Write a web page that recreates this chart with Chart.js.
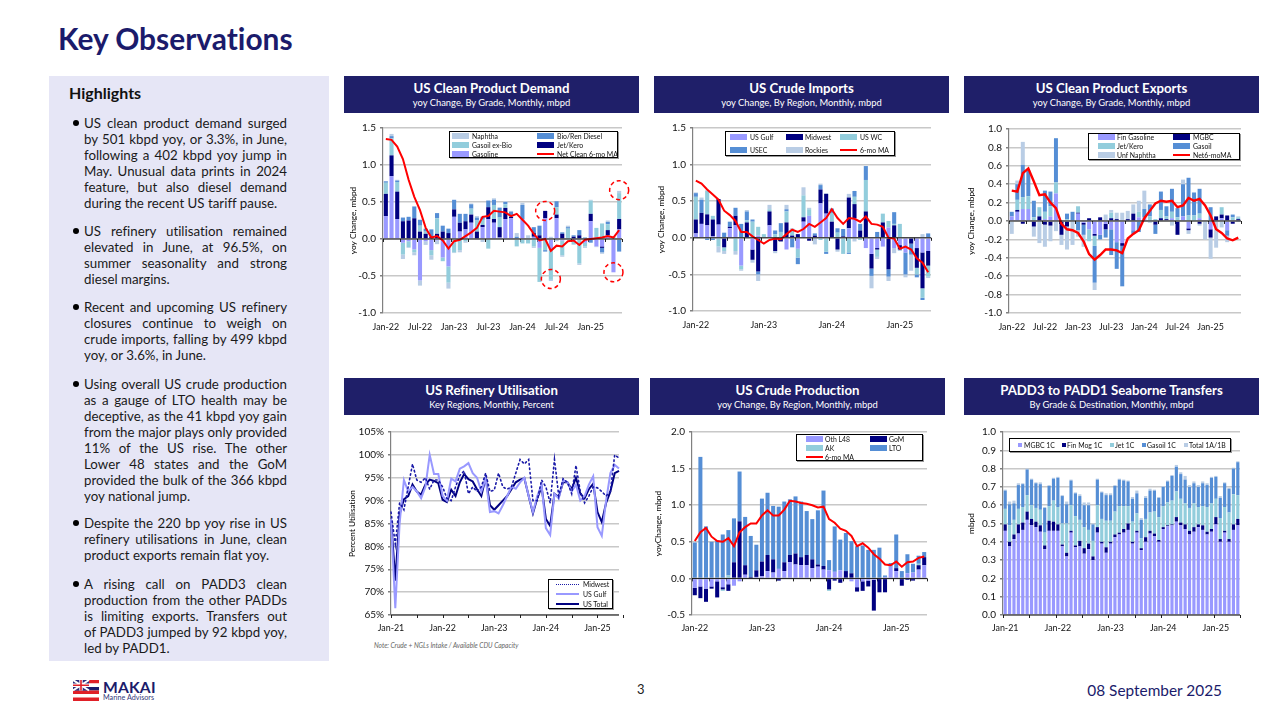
<!DOCTYPE html>
<html>
<head>
<meta charset="utf-8">
<title>Key Observations</title>
<script src="https://cdn.jsdelivr.net/npm/chart.js@4/dist/chart.umd.min.js"></script>
<style>
    html, body { margin: 0; padding: 0; background: #fff; }
    body { width: 1280px; height: 720px; position: relative; overflow: hidden; font-family: Lato, sans-serif; font-variant-ligatures: none; }
    h1 { position: absolute; left: 58px; top: 20px; margin: 0; font-size: 29.9px; line-height: 36px; font-weight: 700; color: #1b1b6b; }
    .panel { position: absolute; left: 49px; top: 76px; width: 280px; height: 585px; background: #e6e6f6; }
    .panel h2 { position: absolute; left: 20px; top: 8px; margin: 0; font-size: 16px; line-height: 18px; font-weight: 700; color: #111; }
    .panel p { position: absolute; left: 35px; width: 203px; margin: 0; font-size: 13.3px; line-height: 16px; color: #1a1a1a; }
    .panel p span { display: block; white-space: nowrap; text-align: justify; text-align-last: justify; }
    .panel p span:last-child { text-align-last: left; }
    .panel p::before { content: ""; position: absolute; left: -11px; top: 5px; width: 6px; height: 6px; border-radius: 50%; background: #000; }
    .head { position: absolute; height: 37px; background: #1f1f69; color: #fff; text-align: center; }
    .head b { display: block; font-size: 13.2px; line-height: 15px; margin-top: 5px; font-weight: 700; }
    .head span { display: block; font-size: 9.4px; line-height: 13px; }
    canvas { position: absolute; }
    .legend { position: absolute; background: #fff; border: 1px solid #000; box-sizing: border-box; box-shadow: 1px 1px 0 #999; }
    .legend i { position: absolute; display: block; }
    .legend span { position: absolute; font-size: 6.9px; line-height: 10px; white-space: nowrap; color: #111; }
    .note { position: absolute; left: 374px; top: 640px; font-size: 6.6px; line-height: 10px; font-style: italic; color: #666; }
    .page { position: absolute; left: 637px; top: 681px; font-size: 13px; line-height: 16px; color: #222; }
    .date { position: absolute; right: 58px; top: 681px; font-size: 15.4px; line-height: 18px; color: #1b1b6b; }
    .logo { position: absolute; left: 73px; top: 680px; }
    .brand { position: absolute; left: 103px; top: 677px; font-size: 15.6px; line-height: 20px; font-weight: 700; letter-spacing: 0.2px; color: #1b1b6b; }
    .brand2 { position: absolute; left: 103px; top: 693px; font-size: 7.2px; line-height: 10px; color: #333a7a; }
</style>
</head>
<body>
<h1>Key Observations</h1>

<div class="panel">
    <h2>Highlights</h2>
    <p style="top:39px"><span>US clean product demand surged</span><span>by 501 kbpd yoy, or 3.3%, in June,</span><span>following a 402 kbpd yoy jump in</span><span>May. Unusual data prints in 2024</span><span>feature, but also diesel demand</span><span>during the recent US tariff pause.</span></p>
    <p style="top:147px"><span>US refinery utilisation remained</span><span>elevated in June, at 96.5%, on</span><span>summer seasonality and strong</span><span>diesel margins.</span></p>
    <p style="top:223px"><span>Recent and upcoming US refinery</span><span>closures continue to weigh on</span><span>crude imports, falling by 499 kbpd</span><span>yoy, or 3.6%, in June.</span></p>
    <p style="top:300px"><span>Using overall US crude production</span><span>as a gauge of LTO health may be</span><span>deceptive, as the 41 kbpd yoy gain</span><span>from the major plays only provided</span><span>11% of the US rise. The other</span><span>Lower 48 states and the GoM</span><span>provided the bulk of the 366 kbpd</span><span>yoy national jump.</span></p>
    <p style="top:439px"><span>Despite the 220 bp yoy rise in US</span><span>refinery utilisations in June, clean</span><span>product exports remain flat yoy.</span></p>
    <p style="top:500px"><span>A rising call on PADD3 clean</span><span>production from the other PADDs</span><span>is limiting exports. Transfers out</span><span>of PADD3 jumped by 92 kbpd yoy,</span><span>led by PADD1.</span></p>
</div>

<div class="head" style="left:344px;top:76px;width:295px"><b>US Clean Product Demand</b><span>yoy Change, By Grade, Monthly, mbpd</span></div>
<div class="head" style="left:654px;top:76px;width:295px"><b>US Crude Imports</b><span>yoy Change, By Region, Monthly, mbpd</span></div>
<div class="head" style="left:964px;top:76px;width:295px"><b>US Clean Product Exports</b><span>yoy Change, By Grade, Monthly, mbpd</span></div>
<div class="head" style="left:344px;top:378px;width:295px"><b>US Refinery Utilisation</b><span>Key Regions, Monthly, Percent</span></div>
<div class="head" style="left:650px;top:378px;width:295px"><b>US Crude Production</b><span>yoy Change, By Region, Monthly, mbpd</span></div>
<div class="head" style="left:964px;top:378px;width:295px"><b>PADD3 to PADD1 Seaborne Transfers</b><span>By Grade &amp; Destination, Monthly, mbpd</span></div>

<canvas id="demand"></canvas>
<canvas id="imports"></canvas>
<canvas id="exports"></canvas>
<canvas id="utilisation"></canvas>
<canvas id="production"></canvas>
<canvas id="transfers"></canvas>

<div class="note">Note: Crude + NGLs Intake / Available CDU Capacity</div>
<svg class="logo" width="26" height="21" viewBox="0 0 26 21">
    <rect width="26" height="3.5" fill="#e02028"/>
    <rect y="3.5" width="26" height="3.5" fill="#fff"/>
    <rect y="7" width="26" height="3.5" fill="#1b1b6b"/>
    <rect y="10.5" width="26" height="3.5" fill="#e02028"/>
    <rect y="14" width="26" height="3.5" fill="#fff"/>
    <rect y="17.5" width="26" height="3.5" fill="#e02028"/>
    <rect width="16" height="10.5" fill="#2a2a7a"/>
    <path d="M0 0L16 10.5M16 0L0 10.5" stroke="#fff" stroke-width="2"/>
    <path d="M8 0V10.5M0 5.25H16" stroke="#fff" stroke-width="3.4"/>
    <path d="M8 0V10.5M0 5.25H16" stroke="#e02028" stroke-width="1.6"/>
</svg>
<div class="brand">MAKAI</div>
<div class="brand2">Marine Advisors</div>
<div class="page">3</div>
<div class="date">08 September 2025</div>

<script>
const months22 = [
    'Jan-22','Feb-22','Mar-22','Apr-22','May-22','Jun-22','Jul-22','Aug-22','Sep-22','Oct-22','Nov-22','Dec-22',
    'Jan-23','Feb-23','Mar-23','Apr-23','May-23','Jun-23','Jul-23','Aug-23','Sep-23','Oct-23','Nov-23','Dec-23',
    'Jan-24','Feb-24','Mar-24','Apr-24','May-24','Jun-24','Jul-24','Aug-24','Sep-24','Oct-24','Nov-24','Dec-24',
    'Jan-25','Feb-25','Mar-25','Apr-25','May-25','Jun-25'
];
const months21 = [
    'Jan-21','Feb-21','Mar-21','Apr-21','May-21','Jun-21','Jul-21','Aug-21','Sep-21','Oct-21','Nov-21','Dec-21',
    ...months22
];

// US clean product demand
const demandGasoline = [.31,.85,.27,-.05,-.03,-.14,-.56,-.03,-.15,-.02,-.25,-.37,.30,.10,.13,.22,0,.16,.27,.22,.02,.27,.28,0,.27,0,.03,-.12,.28,-.15,.28,-.02,0,-.03,0,-.05,.24,-.10,-.10,.05,-.45,.13];
const demandJet = [.30,.28,.37,.24,.25,.28,.10,.07,.03,.07,.10,.08,.10,.12,.11,.11,.10,.03,.16,.05,.14,.15,.02,0,0,0,.05,.05,.10,0,.05,.07,0,.03,.05,0,.10,0,-.02,.07,0,.14];
const demandGasoil = [.15,.23,.13,-.16,-.08,-.04,.08,.03,-.07,.21,-.05,-.22,-.18,-.15,-.03,.08,.15,.07,-.13,.19,.13,.05,.02,-.10,-.06,-.06,-.10,-.46,-.15,-.40,.10,-.20,.14,-.04,-.33,-.05,.18,.15,.21,.08,.03,.35];
const demandBio = [.02,.03,.02,.05,.05,.16,.08,.04,.10,.07,.08,.06,.13,.12,.10,.06,.04,.04,.09,.07,.13,.03,.05,.03,.19,0,.08,.13,-.02,-.01,.08,.02,.02,.02,.07,.02,-.05,0,-.06,.03,0,-.17];
const demandNaphtha = [-.01,.03,.01,-.06,-.01,-.04,-.07,-.05,-.06,-.05,0,-.08,-.01,-.03,-.02,.01,.02,-.04,0,.02,.01,.01,.01,.05,.03,.05,-.02,0,0,.03,-.03,-.02,.02,-.01,-.02,-.02,.01,-.01,-.02,.02,0,.03];
const demandMa = [1.35,1.34,1.25,1.08,.80,.57,.39,.15,.02,.04,-.02,-.13,-.03,-.01,.04,.09,.15,.30,.31,.38,.37,.36,.31,.34,.26,.18,.07,-.02,0,-.16,-.09,-.10,-.03,-.02,-.08,-.01,0,.01,.02,.04,.02,.12];
const calloutMonths = ['May-24','Jun-24','May-25','Jun-25'];
const calloutValues = [.38,-.54,-.45,.66];

// US crude imports
const importsGulf = [.06,.19,.17,.02,.18,0,.13,.17,-.38,0,-.16,.03,0,.17,0,0,-.16,0,-.15,.22,.30,0,.47,.33,0,0,0,.13,.27,0,-.14,-.22,-.14,-.12,.14,-.14,-.10,-.20,0,-.14,-.20,-.18];
const importsMidwest = [.19,.15,.15,.23,.35,-.13,.02,.13,0,.21,-.14,-.46,0,.19,-.18,-.05,.21,.03,.05,.06,-.04,.03,.19,.27,.22,-.16,.02,.42,.19,.10,.36,-.20,-.02,.21,-.43,.17,-.06,0,-.08,-.27,-.49,-.20];
const importsWc = [.31,0,.32,.05,-.12,-.05,0,-.18,-.05,.03,.22,.12,.05,.03,.05,.08,.15,.08,-.12,.30,.09,-.01,-.03,-.19,.12,.07,-.22,-.20,.10,-.03,.43,0,-.10,.12,.09,.02,.19,0,0,-.09,-.13,-.15];
const importsEc = [.05,.18,-.03,-.03,0,.07,.07,.11,.19,.12,.03,-.04,0,0,.05,.12,.03,-.13,-.09,0,0,.03,.06,-.03,.06,.06,.10,-.02,.08,.09,.19,-.10,.08,0,-.10,.16,0,-.30,-.15,-.04,-.03,.06];
const importsRockies = [.01,.03,.01,0,-.08,-.04,0,-.05,-.02,.02,-.04,-.09,0,.06,-.03,0,.06,.02,0,.11,.02,-.08,.02,.01,0,-.03,0,.05,-.05,0,0,-.17,-.03,0,-.06,-.07,-.02,-.04,-.22,.01,.05,-.02];
const importsMa = [.78,.74,.66,.59,.52,.37,.31,.23,.08,.08,.02,-.03,-.08,-.03,-.01,-.02,.05,.11,.08,.12,.19,.15,.21,.27,.39,.27,.19,.27,.26,.22,.29,.19,.18,.15,0,-.01,-.15,-.12,-.16,-.28,-.34,-.47];

// US clean product exports
const exportsGasoline = [.05,.10,.13,.13,0,0,.02,.05,.30,0,0,0,.08,-.02,-.09,-.14,-.15,-.03,-.09,-.23,-.24,0,-.10,.04,.04,0,0,0,.01,.03,0,.05,-.08,0,.03,0,-.09,0,.03,-.10,0,0];
const exportsMgbc = [0,.02,-.03,0,-.06,.05,-.04,-.05,0,-.15,-.06,0,.01,-.02,.03,-.02,.04,-.06,.03,.02,-.03,.02,.08,0,0,0,-.04,.03,.01,0,-.15,0,-.02,0,-.03,0,-.09,.05,.04,.06,-.03,.02];
const exportsJet = [0,.11,.13,.14,.04,.10,.08,.11,.12,0,.02,0,.07,0,-.13,-.11,0,0,.06,0,0,0,0,.06,0,.05,.02,.09,.03,.07,.04,0,.06,.06,.05,0,0,0,.08,0,.04,.02];
const exportsGasoil = [.05,.17,.35,.28,.18,0,.23,.16,.48,0,.06,.10,-.10,-.11,0,-.40,-.05,-.09,-.28,-.29,-.44,0,-.04,-.12,.09,.13,-.10,.20,.11,.25,.10,.35,.41,.25,.27,0,.15,0,0,-.06,.03,-.01];
const exportsNaphtha = [-.14,.04,.25,0,-.11,-.24,-.24,-.17,-.11,-.11,-.25,-.26,-.07,-.13,0,-.08,0,.07,.03,.07,.09,.09,.10,.12,.20,-.02,0,0,0,-.05,0,.05,-.04,0,-.02,-.20,-.23,-.29,-.07,-.07,0,.01];
const exportsMa = [.33,.32,.52,.57,.43,.28,.29,.20,.14,-.03,-.09,-.10,-.13,-.22,-.36,-.42,-.37,-.31,-.31,-.32,-.35,-.19,-.14,-.10,.03,.11,.19,.22,.21,.22,.15,.17,.25,.22,.24,.17,.06,-.09,-.13,-.19,-.21,-.18];

// US refinery utilisation
const utilMidwest = [87.5,80.5,89.5,88,93,98,94.5,94,95,92.5,94.5,94.5,93,90.5,90,93,95.5,96.5,91.5,93,92,93,96,92,92.3,96,93,92.5,93,96,99,98,99,90,90,94.5,93,89.5,99,91,94.8,94,91.5,97.7,92,89.5,91,93,92.8,92,91,92,100,99.3];
const utilGulf = [86,66.5,85,94.5,92,93,92,90.5,93,100,95.8,95.8,91,90,94.8,94.2,97,97.5,98.2,96,95,92,94.8,87.5,87.7,87.2,89,91,93,92.6,94,95,91,87.5,91,93.5,84,82.5,91.5,90.5,94.5,94,92,93.5,90,91,93.5,95.3,84.2,82.3,90,96,97.8,97];
const utilTotal = [86,72.5,87,90.3,91,93.5,92,91.3,93.5,94.6,94.3,93.8,90.2,89.7,92.4,91,94,95.8,94.7,94.2,92.5,91,95,89,88,89,90,91,92.5,94,94.6,94.9,91,87.2,90.5,93,86,84.5,91.5,90.8,94,94,92.5,95,91.5,90.5,92.5,93.7,87.5,85.3,89.5,92,96,96.5];

// US crude production
const prodOthL48 = [-.13,-.11,-.14,-.11,-.04,-.12,-.08,-.10,-.04,.05,0,.02,.03,.10,.08,.13,.10,.22,.19,.18,.18,.14,.16,.12,.11,.09,.11,.01,-.04,-.12,-.04,-.03,-.02,0,.02,.16,.10,0,.07,.08,.12,.18];
const prodGom = [-.10,-.16,-.18,-.03,-.22,-.03,-.09,.22,.78,.13,.02,.09,.20,.22,.18,-.03,.12,.10,.15,.11,.14,.12,.03,.05,-.15,-.03,-.06,.09,.07,-.06,-.13,-.08,-.42,-.19,-.19,0,.04,-.10,-.02,-.03,.06,.11];
const prodAk = [0,0,0,0,0,-.02,.04,0,0,0,0,0,0,0,0,0,0,0,0,0,0,0,0,0,-.02,0,0,0,0,0,0,0,0,0,0,0,0,0,0,0,.02,0];
const prodLto = [.49,1.66,.71,.50,.52,.60,.62,.60,.68,.66,.56,.35,.86,.85,.73,.85,.83,.76,.78,.76,.60,.55,.74,1.03,.14,.62,.42,.52,.44,.44,.45,.39,.39,.42,.02,.05,.46,.10,.26,.12,.11,.07];
const prodMa = [.51,.63,.69,.57,.51,.50,.55,.44,.63,.70,.75,.75,.86,.93,.86,.86,.94,1.06,1.05,1.03,1.02,1.00,.97,.98,.81,.76,.68,.65,.58,.44,.48,.42,.33,.27,.19,.18,.23,.16,.22,.23,.28,.30];

// PADD3 to PADD1 transfers
const transMgbc = [.46,.375,.415,.445,.465,.52,.49,.48,.455,.36,.46,.46,.46,.375,.32,.45,.37,.375,.335,.36,.30,.45,.39,.34,.39,.425,.44,.45,.465,.39,.45,.355,.40,.445,.43,.40,.47,.485,.49,.51,.49,.47,.44,.455,.48,.465,.44,.455,.495,.40,.45,.40,.465,.49];
const transFinMog = [.035,.025,.025,.05,.04,.045,.035,.03,.035,.02,.055,.05,.035,.01,.02,.01,.01,.03,.03,.03,.02,.03,.01,.03,.01,.015,.01,.02,.035,.01,.01,.01,.025,.015,.015,.01,.01,.005,.005,.025,.015,.025,.02,.025,.015,.025,.015,.015,.04,.015,.01,.015,.03,.035];
const transJet = [.085,.09,.08,.085,.085,.09,.075,.075,.085,.07,.08,.115,.095,.115,.16,.14,.16,.115,.115,.075,.085,.12,.125,.145,.115,.125,.145,.125,.095,.11,.095,.055,.10,.10,.12,.125,.115,.125,.13,.14,.13,.115,.125,.13,.095,.105,.135,.14,.10,.115,.13,.145,.165,.13];
const transGasoil = [.10,.115,.09,.13,.125,.14,.14,.135,.14,.135,.11,.12,.16,.15,.105,.135,.125,.13,.12,.135,.09,.14,.145,.14,.14,.14,.145,.14,.135,.125,.11,.10,.115,.12,.115,.105,.105,.115,.135,.135,.135,.13,.115,.11,.11,.125,.12,.14,.12,.11,.13,.13,.14,.18];
const transTotal = [.005,.015,.015,.01,.005,.005,.005,.005,.01,.005,.005,.005,.005,.005,.015,.005,.005,.01,.015,.015,.005,.005,.005,.01,.01,.005,.005,.005,.005,.01,.015,.01,.01,.01,.005,.005,.005,.005,.005,.01,.01,.02,.01,.01,.01,.01,.01,.005,.005,.01,.005,.005,.005,.005];

const C_PURPLE = '#9999ff', C_NAVY = '#000080', C_TEAL = '#92cddc', C_BLUE = '#558ed5', C_PALE = '#b9cde5', C_RED = '#ff0000';
const GRID = '#c8c8c8', AXIS = '#808080', TICK_TEXT = '#111';

const bar = (label, data, color) => ({type: 'bar', label, data, backgroundColor: color, order: 2, barPercentage: 0.72, categoryPercentage: 1, borderWidth: 0});
const line = (label, data, color, width, dash) => ({type: 'line', label, data, borderColor: color, backgroundColor: color, borderWidth: width, borderDash: dash || [], pointRadius: 0, tension: 0, order: 1, borderCapStyle: dash ? 'round' : 'butt'});

// crossing axis the way Excel puts it: tick marks go under the bars, the line over them
const crossAxisPlugin = {
    id: 'crossAxis',
    beforeDatasetsDraw(chart, args, opts) {
        const {ctx, scales: {x, y}} = chart;
        const n = chart.data.labels.length;
        const yPos = y.getPixelForValue(opts.at);
        const slots = opts.offset ? n : n - 1;
        ctx.save();
        ctx.strokeStyle = '#222';
        ctx.lineWidth = 1;
        ctx.beginPath();
        for (let i = 0; i <= n; i += opts.every) {
            const xPos = Math.round(x.left + i * x.width / slots) + 0.5;
            ctx.moveTo(xPos, yPos);
            ctx.lineTo(xPos, yPos + 3);
        }
        ctx.stroke();
        ctx.restore();
    },
    afterDatasetsDraw(chart, args, opts) {
        const {ctx, scales: {x, y}} = chart;
        const yPos = y.getPixelForValue(opts.at);
        ctx.save();
        ctx.strokeStyle = '#111';
        ctx.lineWidth = 1;
        ctx.beginPath();
        ctx.moveTo(x.left, yPos);
        ctx.lineTo(x.right, yPos);
        ctx.stroke();
        ctx.restore();
    }
};

const calloutPlugin = {
    id: 'callouts',
    afterDatasetsDraw(chart, args, opts) {
        if (!opts.months) return;
        const {ctx, scales: {x, y}} = chart;
        ctx.save();
        ctx.strokeStyle = C_RED;
        ctx.lineWidth = 1.5;
        ctx.setLineDash([4, 3]);
        opts.months.forEach((m, i) => {
            ctx.beginPath();
            ctx.arc(x.getPixelForValue(m), y.getPixelForValue(opts.values[i]), 9.5, 0, Math.PI * 2);
            ctx.stroke();
        });
        ctx.restore();
    }
};

function makeChart(id, box, plot, labels, datasets, cfg) {
    const canvas = document.getElementById(id);
    canvas.style.left = box.x + 'px';
    canvas.style.top = box.y + 'px';
    canvas.style.width = box.w + 'px';
    canvas.style.height = box.h + 'px';
    canvas.width = box.w;
    canvas.height = box.h;

    return new Chart(canvas, {
        data: {labels, datasets},
        plugins: [crossAxisPlugin, calloutPlugin],
        options: {
            responsive: false,
            animation: false,
            layout: {padding: {top: plot.top - box.y, right: box.x + box.w - plot.right, left: 0, bottom: 0}},
            plugins: {
                legend: {display: false},
                tooltip: {enabled: false},
                crossAxis: {at: cfg.at, every: cfg.tickEvery, offset: cfg.offset},
                callouts: cfg.callouts || {}
            },
            scales: {
                x: {
                    stacked: cfg.stacked !== false,
                    offset: cfg.offset,
                    grid: {display: false},
                    border: {display: false},
                    afterFit: s => { s.height = box.y + box.h - plot.bottom; },
                    ticks: {
                        autoSkip: false,
                        maxRotation: 0,
                        minRotation: 0,
                        padding: cfg.labelPad,
                        color: TICK_TEXT,
                        font: {family: 'Lato', size: 8.9},
                        callback: (v, i) => i % cfg.labelEvery === 0 ? labels[i] : ''
                    }
                },
                y: {
                    stacked: cfg.stacked !== false,
                    min: cfg.min,
                    max: cfg.max,
                    afterFit: s => { s.width = plot.left - box.x; },
                    afterBuildTicks: s => { s.ticks = cfg.ticks.map(value => ({value})); },
                    grid: {color: GRID, lineWidth: 1.5, tickLength: 3, tickColor: AXIS},
                    border: {display: true, color: AXIS, width: 1.2},
                    title: {
                        display: !!cfg.title,
                        text: cfg.title,
                        color: '#000',
                        font: {family: 'Lato', size: 8.3},
                        padding: {top: cfg.titlePad, bottom: 0}
                    },
                    ticks: {
                        padding: 4,
                        color: TICK_TEXT,
                        font: {family: 'Lato', size: cfg.tickSize || 10},
                        callback: cfg.format
                    }
                }
            }
        }
    });
}

const oneDecimal = v => v.toFixed(1);

makeChart('demand', {x: 344, y: 118, w: 296, h: 220}, {left: 383, right: 622, top: 128, bottom: 313}, months22, [
    line('Net Clean 6-mo MA', demandMa, C_RED, 2),
    bar('Gasoline', demandGasoline, C_PURPLE),
    bar('Jet/Kero', demandJet, C_NAVY),
    bar('Gasoil ex-Bio', demandGasoil, C_TEAL),
    bar('Bio/Ren Diesel', demandBio, C_BLUE),
    bar('Naphtha', demandNaphtha, C_PALE)
], {min: -1, max: 1.5, ticks: [-1, -.5, 0, .5, 1, 1.5], at: 0, tickEvery: 3, labelEvery: 6, labelPad: 1, offset: true, format: oneDecimal, title: 'yoy Change, mbpd', titlePad: 4, callouts: {months: calloutMonths, values: calloutValues}});

makeChart('imports', {x: 654, y: 118, w: 296, h: 220}, {left: 693, right: 931, top: 127, bottom: 311}, months22, [
    line('6-mo MA', importsMa, C_RED, 2),
    bar('US Gulf', importsGulf, C_PURPLE),
    bar('Midwest', importsMidwest, C_NAVY),
    bar('US WC', importsWc, C_TEAL),
    bar('USEC', importsEc, C_BLUE),
    bar('Rockies', importsRockies, C_PALE)
], {min: -1, max: 1.5, ticks: [-1, -.5, 0, .5, 1, 1.5], at: 0, tickEvery: 3, labelEvery: 12, labelPad: 1, offset: true, format: oneDecimal, title: 'yoy Change, mbpd', titlePad: 2});

makeChart('exports', {x: 964, y: 118, w: 296, h: 220}, {left: 1009, right: 1241, top: 129, bottom: 313}, months22, [
    line('Net6-moMA', exportsMa, C_RED, 2.4),
    bar('Fin Gasoline', exportsGasoline, C_PURPLE),
    bar('MGBC', exportsMgbc, C_NAVY),
    bar('Jet/Kero', exportsJet, C_TEAL),
    bar('Gasoil', exportsGasoil, C_BLUE),
    bar('Unf Naphtha', exportsNaphtha, C_PALE)
], {min: -1, max: 1, ticks: [-1, -.8, -.6, -.4, -.2, 0, .2, .4, .6, .8, 1], at: 0, tickEvery: 3, labelEvery: 6, labelPad: 1, offset: true, format: oneDecimal, title: 'yoy Change, mbpd', titlePad: 2});

makeChart('utilisation', {x: 344, y: 420, w: 296, h: 220}, {left: 391, right: 619, top: 432, bottom: 615}, months21, [
    line('Midwest', utilMidwest, '#1a1aa8', 1.6, [1.5, 3]),
    line('US Gulf', utilGulf, C_PURPLE, 2),
    line('US Total', utilTotal, C_NAVY, 2)
], {min: 65, max: 105, ticks: [65, 70, 75, 80, 85, 90, 95, 100, 105], at: 65, tickEvery: 6, labelEvery: 12, labelPad: 0, offset: false, stacked: false, format: v => v + '%', title: 'Percent Utilisation', titlePad: 3});

makeChart('production', {x: 650, y: 420, w: 296, h: 220}, {left: 692, right: 927, top: 432, bottom: 615}, months22, [
    line('6-mo MA', prodMa, C_RED, 2),
    bar('Oth L48', prodOthL48, C_PURPLE),
    bar('GoM', prodGom, C_NAVY),
    bar('AK', prodAk, C_TEAL),
    bar('LTO', prodLto, C_BLUE)
], {min: -.5, max: 2, ticks: [-.5, 0, .5, 1, 1.5, 2], at: 0, tickEvery: 3, labelEvery: 12, labelPad: 0, offset: true, format: oneDecimal, title: 'yoyChange, mbpd', titlePad: 3});

makeChart('transfers', {x: 964, y: 420, w: 296, h: 220}, {left: 1003, right: 1240, top: 432, bottom: 615}, months21, [
    bar('MGBC 1C', transMgbc, C_PURPLE),
    bar('Fin Mog 1C', transFinMog, C_NAVY),
    bar('Jet 1C', transJet, C_TEAL),
    bar('Gasoil 1C', transGasoil, C_BLUE),
    bar('Total 1A/1B', transTotal, C_PALE)
], {min: 0, max: 1, ticks: [0, .1, .2, .3, .4, .5, .6, .7, .8, .9, 1], at: 0, tickEvery: 6, labelEvery: 12, labelPad: 0, offset: true, format: oneDecimal, title: 'mbpd', titlePad: 2});

function makeLegend(left, top, width, height, items) {
    const el = document.createElement('div');
    el.className = 'legend';
    el.style.cssText = `left:${left}px;top:${top}px;width:${width}px;height:${height}px`;
    for (const [text, color, kind, swatchX, swatchW, textX, rowY] of items) {
        const sw = document.createElement('i');
        const sx = swatchX - left - 1, ty = rowY - top - 1;
        if (kind === 'line') {
            sw.style.cssText = `left:${sx}px;top:${ty - 1}px;width:${swatchW}px;height:2px;background:${color}`;
        } else if (kind === 'dots') {
            sw.style.cssText = `left:${sx}px;top:${ty}px;width:${swatchW}px;height:0;border-top:1.5px dotted ${color}`;
        } else if (kind === 'dot') {
            sw.style.cssText = `left:${sx}px;top:${ty - 2}px;width:4px;height:4px;background:${color}`;
        } else {
            sw.style.cssText = `left:${sx}px;top:${ty - 3}px;width:${swatchW}px;height:6px;background:${color}`;
        }
        const label = document.createElement('span');
        label.textContent = text;
        label.style.cssText = `left:${textX - left - 1}px;top:${ty - 5}px`;
        el.appendChild(sw);
        el.appendChild(label);
    }
    document.body.appendChild(el);
}

makeLegend(449, 131, 169, 27, [
    ['Naphtha', C_PALE, 'box', 452, 17, 472, 136], ['Bio/Ren Diesel', C_BLUE, 'box', 537, 17, 557, 136],
    ['Gasoil ex-Bio', C_TEAL, 'box', 452, 17, 472, 145], ['Jet/Kero', C_NAVY, 'box', 537, 17, 557, 145],
    ['Gasoline', C_PURPLE, 'box', 452, 17, 472, 154], ['Net Clean 6-mo MA', C_RED, 'line', 537, 17, 557, 154]
]);
makeLegend(725, 131, 170, 25, [
    ['US Gulf', C_PURPLE, 'box', 730, 17, 750, 137], ['Midwest', C_NAVY, 'box', 786, 17, 805, 137], ['US WC', C_TEAL, 'box', 840, 17, 860, 137],
    ['USEC', C_BLUE, 'box', 730, 17, 750, 150], ['Rockies', C_PALE, 'box', 786, 17, 805, 150], ['6-mo MA', C_RED, 'line', 840, 17, 860, 150]
]);
makeLegend(1088, 133, 152, 27, [
    ['Fin Gasoline', C_PURPLE, 'box', 1098, 17, 1117, 137], ['MGBC', C_NAVY, 'box', 1173, 17, 1193, 137],
    ['Jet/Kero', C_TEAL, 'box', 1098, 17, 1117, 146], ['Gasoil', C_BLUE, 'box', 1173, 17, 1193, 146],
    ['Unf Naphtha', C_PALE, 'box', 1098, 17, 1117, 155], ['Net6-moMA', C_RED, 'line', 1173, 17, 1193, 155]
]);
makeLegend(548, 579, 65, 30, [
    ['Midwest', '#1a1aa8', 'dots', 556, 23, 583, 584],
    ['US Gulf', C_PURPLE, 'line', 556, 23, 583, 594],
    ['US Total', C_NAVY, 'line', 556, 23, 583, 604]
]);
makeLegend(796, 434, 127, 27, [
    ['Oth L48', C_PURPLE, 'box', 806, 17, 825, 439], ['GoM', C_NAVY, 'box', 870, 17, 889, 439],
    ['AK', C_TEAL, 'box', 806, 17, 825, 448], ['LTO', C_BLUE, 'box', 870, 17, 889, 448],
    ['6-mo MA', C_RED, 'line', 806, 17, 825, 457]
]);
makeLegend(1009, 438, 222, 14, [
    ['MGBC 1C', C_PURPLE, 'dot', 1018, 4, 1024, 445], ['Fin Mog 1C', C_NAVY, 'dot', 1062, 4, 1067, 445], ['Jet 1C', C_TEAL, 'dot', 1110, 4, 1115, 445],
    ['Gasoil 1C', C_BLUE, 'dot', 1142, 4, 1147, 445], ['Total 1A/1B', C_PALE, 'dot', 1184, 4, 1189, 445]
]);
</script>
</body>
</html>
